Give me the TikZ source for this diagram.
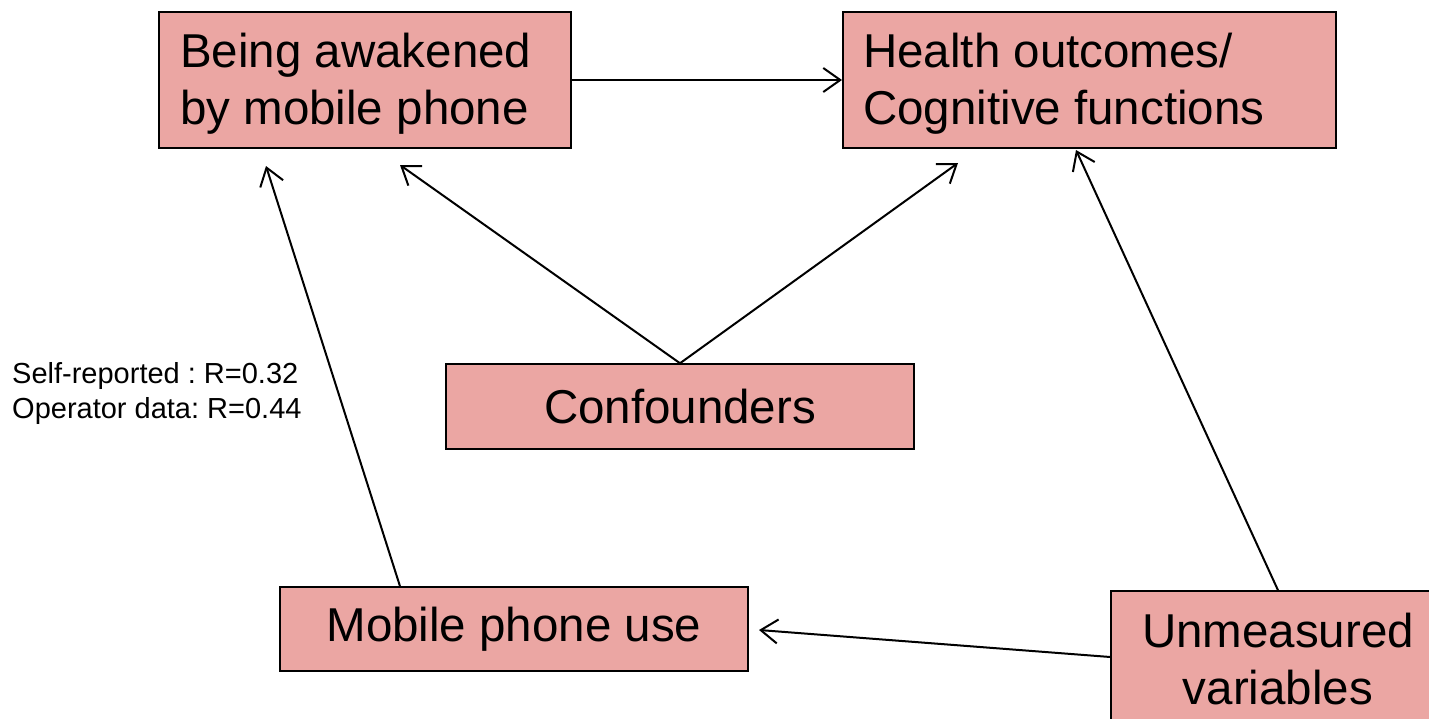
\documentclass[tikz,border=0pt]{standalone}
\usepackage{fontspec}
\setmainfont{Liberation Sans}
\usetikzlibrary{arrows.meta}
\frenchspacing
\definecolor{boxfill}{RGB}{235,166,163}
\tikzset{
  factor/.style={draw=black, line width=1.5pt, fill=boxfill, inner sep=0pt,
    font=\fontsize{47.5}{57}\selectfont},
  boxtext/.style={inner sep=0pt, align=flush left,
    font=\fontsize{47.5}{57}\selectfont},
  link/.style={draw=black, line width=2pt,
    -{Straight Barb[length=17pt, width=24pt, line width=2pt]}},
}
\begin{document}
\begin{tikzpicture}[x=1pt, y=-1pt]
  \useasboundingbox (0,0) rectangle (1429,718);
  \clip (0,0) rectangle (1429,718);

  % boxes
  \node[factor, minimum width=412pt, minimum height=136pt] (awake) at (365,80) {};
  \node[boxtext, anchor=west] (awakeT) at (180,84)
        {Being awakened\\by mobile phone};
  \node[factor, minimum width=493pt, minimum height=136pt] (health) at (1089.5,80) {};
  \node[boxtext, anchor=west] (healthT) at (863,84)
        {Health outcomes/\\Cognitive functions};
  \node[factor, minimum width=468pt, minimum height=85pt] (conf) at (680,406.5)
        {Confounders};
  \node[factor, minimum width=468pt, minimum height=84pt] (mob) at (514,629)
        {Mobile phone use};
  \node[factor, minimum width=334pt, minimum height=136pt, align=center] (unm) at (1278,659)
        {Unmeasured\\variables};

  % correlation note
  \node[anchor=west, align=flush left, inner sep=0pt,
        font=\fontsize{29}{35}\selectfont] (note) at (12,393)
        {Self-reported : R=0.32\\Operator data: R=0.44};

  % free arrow ends
  \coordinate (awakeA) at (266,166);
  \coordinate (awakeB) at (400,165);
  \coordinate (healthA) at (958,163);
  \coordinate (healthB) at (1076,150);
  \coordinate (mobR) at (759,630);
  \coordinate (healthL) at (842,80);

  % connectors
  \draw[link] (awake.east) -- (healthL);
  \draw[link] (conf.north) -- (awakeB);
  \draw[link] (conf.north) -- (healthA);
  \draw[link] (mob.north west -| 400,0) -- (awakeA);
  \draw[link] (unm.north) -- (healthB);
  \draw[link] (unm.west |- 0,657) -- (mobR);
\end{tikzpicture}
\end{document}
